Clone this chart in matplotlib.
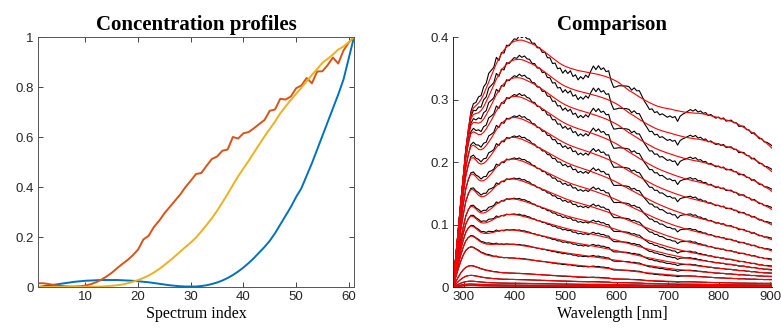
import numpy as np
import matplotlib
matplotlib.use('Agg')
import matplotlib.pyplot as plt

# concentration profiles of the three species (spectrum index 1..61)
spectrum_index = np.arange(1, 62)
conc_blue = [0.000, 0.003, 0.006, 0.009, 0.012, 0.015, 0.018, 0.021, 0.023, 0.025,
             0.026, 0.027, 0.028, 0.028, 0.028, 0.028, 0.027, 0.026, 0.025, 0.023,
             0.021, 0.019, 0.016, 0.013, 0.010, 0.007, 0.005, 0.003, 0.002, 0.002,
             0.002, 0.004, 0.007, 0.012, 0.018, 0.026, 0.036, 0.048, 0.062, 0.078,
             0.096, 0.116, 0.138, 0.160, 0.185, 0.215, 0.250, 0.285, 0.320, 0.360,
             0.395, 0.445, 0.495, 0.550, 0.605, 0.660, 0.715, 0.770, 0.830, 0.915,
             1.000]
conc_orange = [0.015, 0.015, 0.012, 0.008, 0.005, 0.003, 0.002, 0.002, 0.003, 0.006,
               0.011, 0.019, 0.029, 0.042, 0.057, 0.075, 0.092, 0.108, 0.127, 0.150,
               0.190, 0.205, 0.240, 0.265, 0.295, 0.320, 0.345, 0.370, 0.400, 0.425,
               0.452, 0.456, 0.485, 0.512, 0.522, 0.545, 0.550, 0.600, 0.594, 0.615,
               0.620, 0.635, 0.652, 0.668, 0.705, 0.710, 0.753, 0.750, 0.762, 0.795,
               0.806, 0.836, 0.815, 0.862, 0.863, 0.888, 0.918, 0.894, 0.946, 0.978,
               1.000]
conc_yellow = [0.000, 0.000, 0.000, 0.000, 0.000, 0.000, 0.000, 0.000, 0.001, 0.001,
               0.001, 0.001, 0.002, 0.003, 0.005, 0.007, 0.010, 0.015, 0.021, 0.028,
               0.036, 0.046, 0.058, 0.072, 0.088, 0.105, 0.123, 0.142, 0.160, 0.178,
               0.198, 0.222, 0.248, 0.275, 0.305, 0.338, 0.372, 0.408, 0.443, 0.474,
               0.505, 0.538, 0.570, 0.602, 0.632, 0.662, 0.695, 0.722, 0.748, 0.773,
               0.797, 0.823, 0.848, 0.872, 0.897, 0.913, 0.930, 0.950, 0.962, 0.980,
               1.000]

# wavelength grid of the spectra [nm]
wavelength = np.arange(279, 905, 5)

# reference spectral shapes (value near 400 nm = 1)
shape_hi = [0.000, 0.110, 0.220, 0.330, 0.440, 0.550, 0.640, 0.700, 0.725, 0.735,
            0.745, 0.760, 0.780, 0.805, 0.830, 0.855, 0.880, 0.905, 0.925, 0.945,
            0.960, 0.972, 0.982, 0.990, 0.995, 0.998, 1.000, 1.000, 0.997, 0.993,
            0.989, 0.985, 0.980, 0.974, 0.967, 0.960, 0.952, 0.944, 0.936, 0.928,
            0.920, 0.912, 0.905, 0.899, 0.894, 0.890, 0.886, 0.883, 0.880, 0.877,
            0.875, 0.873, 0.871, 0.869, 0.867, 0.865, 0.863, 0.861, 0.858, 0.855,
            0.852, 0.848, 0.844, 0.839, 0.834, 0.828, 0.820, 0.812, 0.804, 0.796,
            0.790, 0.784, 0.777, 0.770, 0.764, 0.758, 0.752, 0.747, 0.742, 0.737,
            0.733, 0.730, 0.727, 0.725, 0.723, 0.721, 0.719, 0.716, 0.714, 0.712,
            0.710, 0.708, 0.707, 0.706, 0.705, 0.704, 0.704, 0.703, 0.701, 0.699,
            0.697, 0.694, 0.691, 0.689, 0.686, 0.683, 0.680, 0.677, 0.674, 0.671,
            0.668, 0.663, 0.658, 0.652, 0.646, 0.640, 0.634, 0.627, 0.620, 0.613,
            0.606, 0.598, 0.590, 0.581, 0.572, 0.562]
shape_mid = [0.000, 0.180, 0.360, 0.530, 0.680, 0.800, 0.880, 0.915, 0.910, 0.885,
             0.855, 0.840, 0.840, 0.850, 0.870, 0.890, 0.915, 0.940, 0.960, 0.975,
             0.987, 0.995, 1.000, 1.000, 0.998, 0.994, 0.988, 0.980, 0.971, 0.962,
             0.952, 0.942, 0.932, 0.922, 0.912, 0.902, 0.892, 0.882, 0.872, 0.862,
             0.852, 0.842, 0.832, 0.822, 0.812, 0.803, 0.795, 0.787, 0.780, 0.773,
             0.766, 0.759, 0.752, 0.745, 0.737, 0.729, 0.721, 0.713, 0.705, 0.697,
             0.689, 0.680, 0.671, 0.662, 0.653, 0.643, 0.633, 0.623, 0.613, 0.603,
             0.593, 0.583, 0.573, 0.563, 0.553, 0.543, 0.533, 0.523, 0.513, 0.503,
             0.494, 0.485, 0.476, 0.467, 0.458, 0.450, 0.442, 0.434, 0.427, 0.420,
             0.413, 0.406, 0.400, 0.394, 0.388, 0.382, 0.376, 0.370, 0.365, 0.360,
             0.355, 0.350, 0.345, 0.340, 0.335, 0.330, 0.325, 0.320, 0.315, 0.310,
             0.305, 0.300, 0.295, 0.290, 0.285, 0.280, 0.275, 0.270, 0.265, 0.260,
             0.255, 0.250, 0.245, 0.240, 0.234, 0.228]
shape_lo = [0.000, 0.350, 0.700, 1.000, 1.250, 1.420, 1.520, 1.550, 1.520, 1.460,
            1.390, 1.320, 1.260, 1.210, 1.170, 1.140, 1.110, 1.090, 1.070, 1.050,
            1.040, 1.030, 1.020, 1.010, 1.000, 0.990, 0.980, 0.970, 0.960, 0.950,
            0.940, 0.930, 0.920, 0.910, 0.900, 0.890, 0.880, 0.870, 0.860, 0.850,
            0.840, 0.830, 0.820, 0.810, 0.800, 0.790, 0.780, 0.770, 0.760, 0.750,
            0.740, 0.730, 0.720, 0.710, 0.700, 0.690, 0.680, 0.670, 0.660, 0.650,
            0.640, 0.630, 0.620, 0.610, 0.600, 0.590, 0.580, 0.570, 0.560, 0.550,
            0.540, 0.530, 0.520, 0.510, 0.500, 0.490, 0.480, 0.475, 0.470, 0.460,
            0.450, 0.445, 0.440, 0.430, 0.420, 0.415, 0.410, 0.400, 0.395, 0.390,
            0.385, 0.380, 0.375, 0.370, 0.365, 0.360, 0.355, 0.350, 0.345, 0.340,
            0.335, 0.330, 0.325, 0.320, 0.316, 0.312, 0.308, 0.304, 0.300, 0.297,
            0.294, 0.291, 0.288, 0.285, 0.282, 0.279, 0.277, 0.275, 0.273, 0.271,
            0.269, 0.267, 0.265, 0.263, 0.261, 0.259]

# measured minus fitted for the strongest spectrum (x 1e-3)
residual_top = [0, 1, -1, 2, 0, 3, -2, 4, 7, 5,
                10, 6, 12, 8, 14, 9, 4, 10, -3, 2,
                -5, 3, -2, 1, 4, 2, 7, 4, 8, 5,
                6, 1, 3, -2, 1, -4, 0, -6, -3, -9,
                -5, -11, -7, -13, -6, -10, -4, -12, -8, -15,
                -9, -12, -5, -8, 3, 12, 7, 14, 9, 13,
                8, 11, -4, -12, -9, -5, -2, 1, 4, 6,
                3, 9, 7, 10, 4, -2, -6, -11, -8, -12,
                -9, -13, -10, -12, -14, -11, -13, -10, -17, -8,
                -4, -1, 2, 5, 3, 6, 2, 4, 1, 3,
                -1, 2, 0, -2, 1, -1, 2, -2, 0, 2,
                -1, 1, -3, 0, 2, -1, 1, -2, 2, 0,
                -2, 1, -1, 2, 3, 4]

# plotted spectra: height near 400 nm and weights of the hi / lo shapes
spec_height = [0.395, 0.365, 0.336, 0.306, 0.272, 0.240, 0.205, 0.173, 0.141, 0.116,
               0.091, 0.068, 0.046, 0.022, 0.012, 0.006, 0.003, 0.0015]
weight_hi = [1.00, 0.83, 0.68, 0.53, 0.41, 0.26, 0.16, 0.06, 0.0, 0.0,
             0.0, 0.0, 0.0, 0.0, 0.0, 0.0, 0.0, 0.0]
weight_lo = [0.0, 0.0, 0.0, 0.0, 0.0, 0.0, 0.0, 0.0, 0.0, 0.10,
             0.25, 0.45, 0.75, 1.0, 1.0, 1.0, 1.0, 1.0]

S = np.array([shape_hi, shape_mid, shape_lo])
W = np.column_stack([weight_hi,
                     1 - np.array(weight_hi) - np.array(weight_lo),
                     weight_lo])
h = np.array(spec_height)
fitted = h[:, None] * (W @ S)
measured = fitted + (h / h[0])[:, None] * np.array(residual_top)[None, :] * 1e-3

serif = 'Liberation Serif'
sans = 'Liberation Sans'
plt.rcParams['font.family'] = sans
tick_col = '#262626'

fig = plt.figure(figsize=(7.81, 3.32), dpi=100)
ax1 = fig.add_axes([0.0487, 0.1355, 0.4046, 0.753])
ax2 = fig.add_axes([0.580, 0.1355, 0.4085, 0.753])

ax1.plot(spectrum_index, conc_blue, color='#0072BD', lw=1.4)
ax1.plot(spectrum_index, conc_orange, color='#D95319', lw=1.4)
ax1.plot(spectrum_index, conc_yellow, color='#EDB120', lw=1.4)
ax1.set_xlim(1, 61)
ax1.set_ylim(0, 1)
ax1.set_xticks([10, 20, 30, 40, 50, 60])
ax1.set_yticks([0, 0.2, 0.4, 0.6, 0.8, 1])
ax1.set_yticklabels(['0', '0.2', '0.4', '0.6', '0.8', '1'])
ax1.tick_params(direction='in', length=3.5, width=0.6, top=True, right=True,
                labelsize=9.5, colors=tick_col, pad=3)
for sp in ax1.spines.values():
    sp.set_color('#555555')
    sp.set_linewidth(0.7)
ax1.set_title('Concentration profiles', family=serif, weight='bold', fontsize=15, pad=5)
ax1.set_xlabel('Spectrum index', family=serif, fontsize=11.5, labelpad=2)

for row in measured:
    ax2.plot(wavelength, row, color='black', lw=0.8)
for row in fitted:
    ax2.plot(wavelength, row, color='red', lw=0.8)
ax2.set_xlim(279, 904)
ax2.set_ylim(0, 0.4)
ax2.set_xticks([300, 400, 500, 600, 700, 800, 900])
ax2.set_yticks([0, 0.1, 0.2, 0.3, 0.4])
ax2.set_yticklabels(['0', '0.1', '0.2', '0.3', '0.4'])
ax2.spines['top'].set_visible(False)
ax2.spines['right'].set_visible(False)
for sp in ('left', 'bottom'):
    ax2.spines[sp].set_color('#262626')
    ax2.spines[sp].set_linewidth(0.7)
ax2.tick_params(direction='in', length=3.5, width=0.6, labelsize=9.5,
                colors=tick_col, pad=3)
ax2.set_title('Comparison', family=serif, weight='bold', fontsize=15, pad=5)
ax2.set_xlabel('Wavelength [nm]', family=serif, fontsize=11.5, labelpad=2)

fig.savefig('out.png', dpi=100)
